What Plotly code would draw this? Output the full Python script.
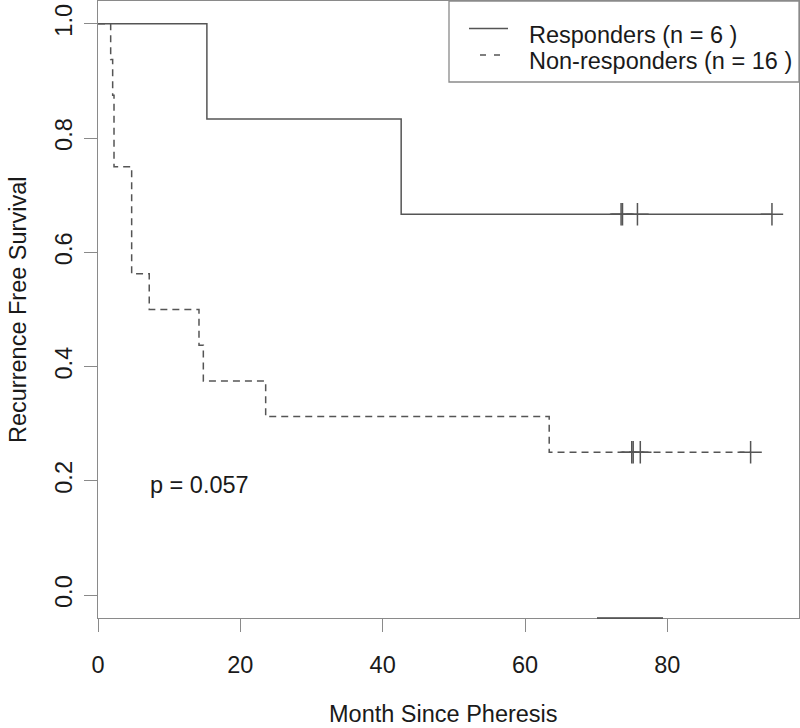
import plotly.graph_objects as go

# ---- data ----
resp_name = "Responders (n = 6 )"
resp_times = [0, 15.3, 42.6]
resp_surv = [1.0, 0.8333, 0.6667]
resp_censor_t = [73.5, 73.7, 75.8, 94.7]

non_name = "Non-responders (n = 16 )"
non_times = [0, 1.78, 2.06, 2.25, 4.73, 7.2, 14.19, 14.8, 23.56, 63.4]
non_surv = [1.0, 0.9375, 0.875, 0.75, 0.5625, 0.5, 0.4375, 0.375, 0.3125, 0.25]
non_censor_t = [75.0, 75.2, 76.2, 91.7]

x_ticks = [0, 20, 40, 60, 80]
y_ticks = [0.0, 0.2, 0.4, 0.6, 0.8, 1.0]
y_tick_text = ["0.0", "0.2", "0.4", "0.6", "0.8", "1.0"]
p_text = "p = 0.057"
x_title = "Month Since Pheresis"
y_title = "Recurrence Free Survival"

# ---- style ----
W, H = 800, 728
ML, MR, MT, MB = 98, 1, 1, 110
FONT = "Liberation Sans, Arial, sans-serif"
FS = 23.5
CURVE = "#555555"
AXIS = "#8a8a8a"
TXT = "#1a1a1a"
DASH = "7px,5px"

pw = W - ML - MR
ph = H - MT - MB


def px2paper_x(px):
    return (px - ML) / pw


def px2paper_y(py):
    return (H - MB - py) / ph


def km_xy(times, surv, end_t):
    xs = list(times) + [end_t]
    ys = list(surv) + [surv[-1]]
    return xs, ys


fig = go.Figure()

rx, ry = km_xy(resp_times, resp_surv, max(resp_censor_t))
fig.add_trace(go.Scatter(x=rx, y=ry, mode="lines", line=dict(shape="hv", color=CURVE, width=1.5),
                         name=resp_name, showlegend=False, hoverinfo="skip", cliponaxis=False))
fig.add_trace(go.Scatter(x=resp_censor_t, y=[resp_surv[-1]] * len(resp_censor_t), mode="markers",
                         marker=dict(symbol="cross-thin", size=16, line=dict(color=CURVE, width=1.5)),
                         showlegend=False, hoverinfo="skip"))

nx, ny = km_xy(non_times, non_surv, max(non_censor_t))
fig.add_trace(go.Scatter(x=nx, y=ny, mode="lines", line=dict(shape="hv", color=CURVE, width=1.5, dash=DASH),
                         name=non_name, showlegend=False, hoverinfo="skip"))
fig.add_trace(go.Scatter(x=non_censor_t, y=[non_surv[-1]] * len(non_censor_t), mode="markers",
                         marker=dict(symbol="cross-thin", size=16, line=dict(color=CURVE, width=1.5)),
                         showlegend=False, hoverinfo="skip"))

axis_common = dict(showgrid=False, zeroline=False, showline=True, mirror=True, linecolor=AXIS, linewidth=1.3,
                   ticks="outside", ticklen=13, tickwidth=1.3, tickcolor=AXIS, automargin=False,
                   tickfont=dict(family=FONT, size=FS, color=TXT))

fig.update_xaxes(range=[0, 98.5], tickvals=x_ticks, ticklabelstandoff=13, **axis_common)
fig.update_yaxes(range=[-0.04, 1.04], tickvals=y_ticks, ticktext=y_tick_text, tickangle=-90,
                 ticklabelstandoff=2, **axis_common)

shapes = []
# legend box
shapes.append(dict(type="rect", xref="paper", yref="paper", x0=px2paper_x(449), x1=1.0,
                   y0=px2paper_y(82), y1=1.0, line=dict(color=AXIS, width=1.3)))
shapes.append(dict(type="line", xref="paper", yref="paper", x0=px2paper_x(469), x1=px2paper_x(508),
                   y0=px2paper_y(28.5), y1=px2paper_y(28.5), line=dict(color=CURVE, width=1.5)))
shapes.append(dict(type="line", xref="paper", yref="paper", x0=px2paper_x(480), x1=px2paper_x(500),
                   y0=px2paper_y(55), y1=px2paper_y(55), line=dict(color=CURVE, width=1.5, dash="6px,8px")))
# darker segment on the bottom axis
shapes.append(dict(type="line", xref="paper", yref="paper", x0=px2paper_x(597), x1=px2paper_x(663),
                   y0=0, y1=0, line=dict(color="#444444", width=1.5)))

annotations = [
    dict(text=resp_name, xref="paper", yref="paper", x=px2paper_x(527), y=px2paper_y(35),
         xanchor="left", yanchor="middle", showarrow=False, font=dict(family=FONT, size=FS, color=TXT)),
    dict(text=non_name, xref="paper", yref="paper", x=px2paper_x(527), y=px2paper_y(61),
         xanchor="left", yanchor="middle", showarrow=False, font=dict(family=FONT, size=FS, color=TXT)),
    dict(text=p_text, xref="x", yref="y", x=14.25, y=0.193, xanchor="center", yanchor="middle",
         showarrow=False, font=dict(family=FONT, size=FS, color=TXT)),
    dict(text=x_title, xref="paper", yref="paper", x=px2paper_x(443), y=px2paper_y(714),
         xanchor="center", yanchor="middle", showarrow=False, font=dict(family=FONT, size=FS, color=TXT)),
    dict(text=y_title, xref="paper", yref="paper", x=px2paper_x(18), y=px2paper_y(310), textangle=-90,
         xanchor="center", yanchor="middle", showarrow=False, font=dict(family=FONT, size=FS, color=TXT)),
]

fig.update_layout(width=W, height=H, margin=dict(l=ML, r=MR, t=MT, b=MB, pad=0, autoexpand=False),
                  paper_bgcolor="white", plot_bgcolor="white", shapes=shapes, annotations=annotations,
                  showlegend=False)

fig.write_html("out.html", config={"displayModeBar": False},
               post_script="document.body.style.margin='0px';document.body.style.overflow='hidden';")
